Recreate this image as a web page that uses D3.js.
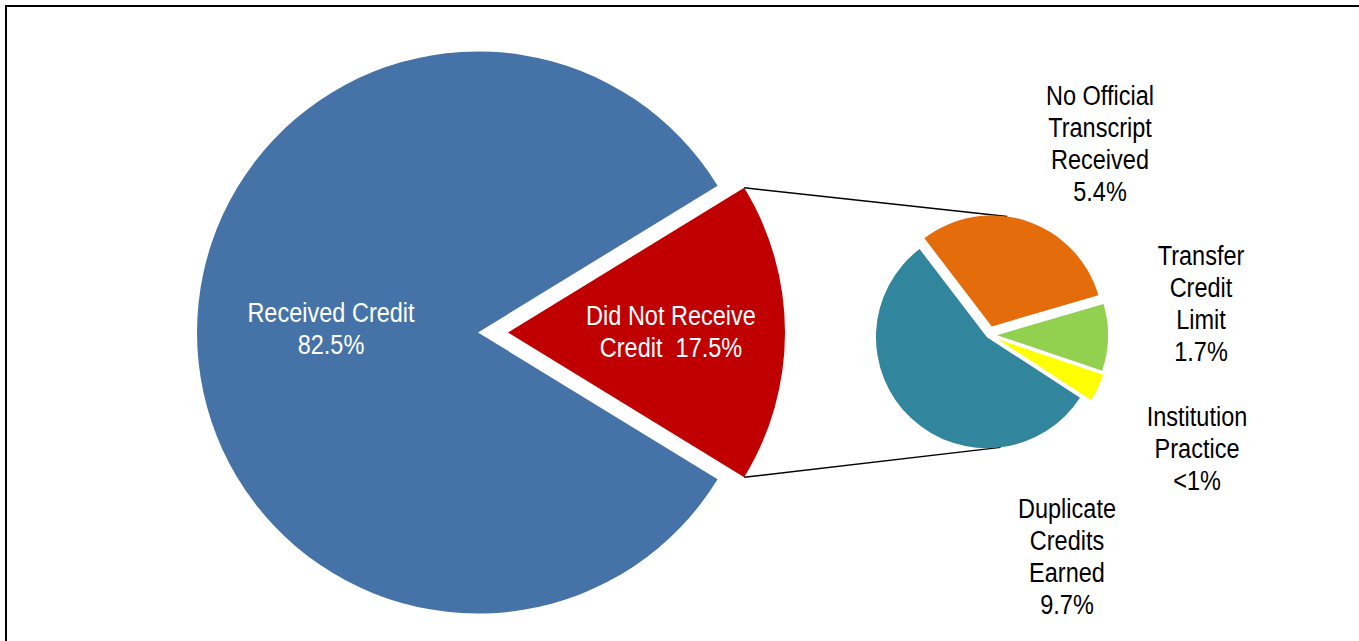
<!DOCTYPE html>
<html>
<head>
<meta charset="utf-8">
<script src="https://cdn.jsdelivr.net/npm/d3@7"></script>
<style>
  html, body { margin: 0; padding: 0; background: #fff; }
  svg { display: block; }
  text { font-family: "Liberation Sans", Arial, sans-serif; font-size: 28px; white-space: pre; }
</style>
</head>
<body>
<svg id="chart" width="1359" height="641"></svg>
<script>
// Main pie data
var mainCategories = ["Received Credit", "Did Not Receive Credit"];
var mainValues = [82.5, 17.5];
var mainLabels = ["82.5%", "17.5%"];

// Breakdown of "Did Not Receive Credit"
var subCategories = ["No Official Transcript Received", "Transfer Credit Limit", "Institution Practice", "Duplicate Credits Earned"];
var subValues = [5.4, 1.7, 0.7, 9.7];
var subLabels = ["5.4%", "1.7%", "<1%", "9.7%"];

var mainColours = ["#4673A7", "#C00000"];
var subColours = ["#E46C0A", "#92D050", "#FFFF00", "#31859C"];

// label text, broken the way the picture breaks it
var mainLabelLines = [["Received Credit", "82.5%"], ["Did Not Receive", "Credit  17.5%"]];
var subLabelLines = [
    ["No Official", "Transcript", "Received", "5.4%"],
    ["Transfer", "Credit", "Limit", "1.7%"],
    ["Institution", "Practice", "<1%"],
    ["Duplicate", "Credits", "Earned", "9.7%"]
];

// layout (pixels)
var big = { cx: 481, cy: 332.5, r: [281, 277], explode: [3, 27] };
var small = { cx: 989, cy: 335, r: 111, explode: [9, 8, 10, 3] };
var mainLabelPos = [[331, 312], [671, 315]];
var subLabelPos = [[1100, 95], [1201, 255], [1197, 416], [1067, 508]];
var lineGap = 32;
var narrow = 0.84;   // squeeze to look like Arial Narrow

var svg = d3.select("#chart");

// chart frame
svg.append("rect")
    .attr("x", 6).attr("y", 6)
    .attr("width", 1360).attr("height", 640)
    .attr("fill", "none")
    .attr("stroke", "#000")
    .attr("stroke-width", 2);

// ---- big pie: red slice centred on the right ----
var redShare = mainValues[1] / d3.sum(mainValues);
var bigStart = Math.PI / 2 - (1 - redShare / 2) * 2 * Math.PI;
var bigPie = d3.pie().sort(null).startAngle(bigStart).endAngle(bigStart + 2 * Math.PI);
var bigArcs = bigPie(mainValues);

function offset(d, dist) {
    var a = (d.startAngle + d.endAngle) / 2;
    return [Math.sin(a) * dist, -Math.cos(a) * dist];
}

svg.append("g").selectAll("path")
    .data(bigArcs)
    .enter().append("path")
    .attr("transform", function(d, i) {
        var o = offset(d, big.explode[i]);
        return "translate(" + (big.cx + o[0]) + "," + (big.cy + o[1]) + ")";
    })
    .attr("d", function(d, i) { return d3.arc().innerRadius(0).outerRadius(big.r[i])(d); })
    .attr("fill", function(d, i) { return mainColours[i]; });

// ---- small pie ----
var smallStart = -37.4 * Math.PI / 180;
var smallPie = d3.pie().sort(null).startAngle(smallStart).endAngle(smallStart + 2 * Math.PI);
var smallArcs = smallPie(subValues);
var smallArc = d3.arc().innerRadius(0).outerRadius(small.r);

function smallCentre(i) {
    var o = offset(smallArcs[i], small.explode[i]);
    return [small.cx + o[0], small.cy + o[1]];
}

// connector lines from red slice corners to the small pie
var redArc = bigArcs[1];
var redO = offset(redArc, big.explode[1]);
var redC = [big.cx + redO[0], big.cy + redO[1]];
function onCircle(c, r, a) { return [c[0] + Math.sin(a) * r, c[1] - Math.cos(a) * r]; }
var topFrom = onCircle(redC, big.r[1], redArc.startAngle);
var botFrom = onCircle(redC, big.r[1], redArc.endAngle);
var topTo = onCircle(smallCentre(0), small.r, 8 * Math.PI / 180);
var botTo = onCircle(smallCentre(3), small.r, 173 * Math.PI / 180);

svg.append("g").selectAll("line")
    .data([[topFrom, topTo], [botFrom, botTo]])
    .enter().append("line")
    .attr("x1", function(d) { return d[0][0]; })
    .attr("y1", function(d) { return d[0][1]; })
    .attr("x2", function(d) { return d[1][0]; })
    .attr("y2", function(d) { return d[1][1]; })
    .attr("stroke", "#000")
    .attr("stroke-width", 1.5);

svg.append("g").selectAll("path")
    .data(smallArcs)
    .enter().append("path")
    .attr("transform", function(d, i) {
        var c = smallCentre(i);
        return "translate(" + c[0] + "," + c[1] + ")";
    })
    .attr("d", smallArc)
    .attr("fill", function(d, i) { return subColours[i]; });

// ---- labels ----
function drawLabel(lines, pos, colour) {
    var t = svg.append("g")
        .attr("transform", "translate(" + pos[0] + "," + pos[1] + ") scale(" + narrow + ",1)")
        .append("text")
        .attr("text-anchor", "middle")
        .attr("fill", colour);
    lines.forEach(function(s, k) {
        t.append("tspan")
            .attr("x", 0)
            .attr("y", k * lineGap)
            .attr("dy", "0.35em")
            .text(s);
    });
}

mainLabelLines.forEach(function(l, i) { drawLabel(l, mainLabelPos[i], "#fff"); });
subLabelLines.forEach(function(l, i) { drawLabel(l, subLabelPos[i], "#000"); });
</script>
</body>
</html>
